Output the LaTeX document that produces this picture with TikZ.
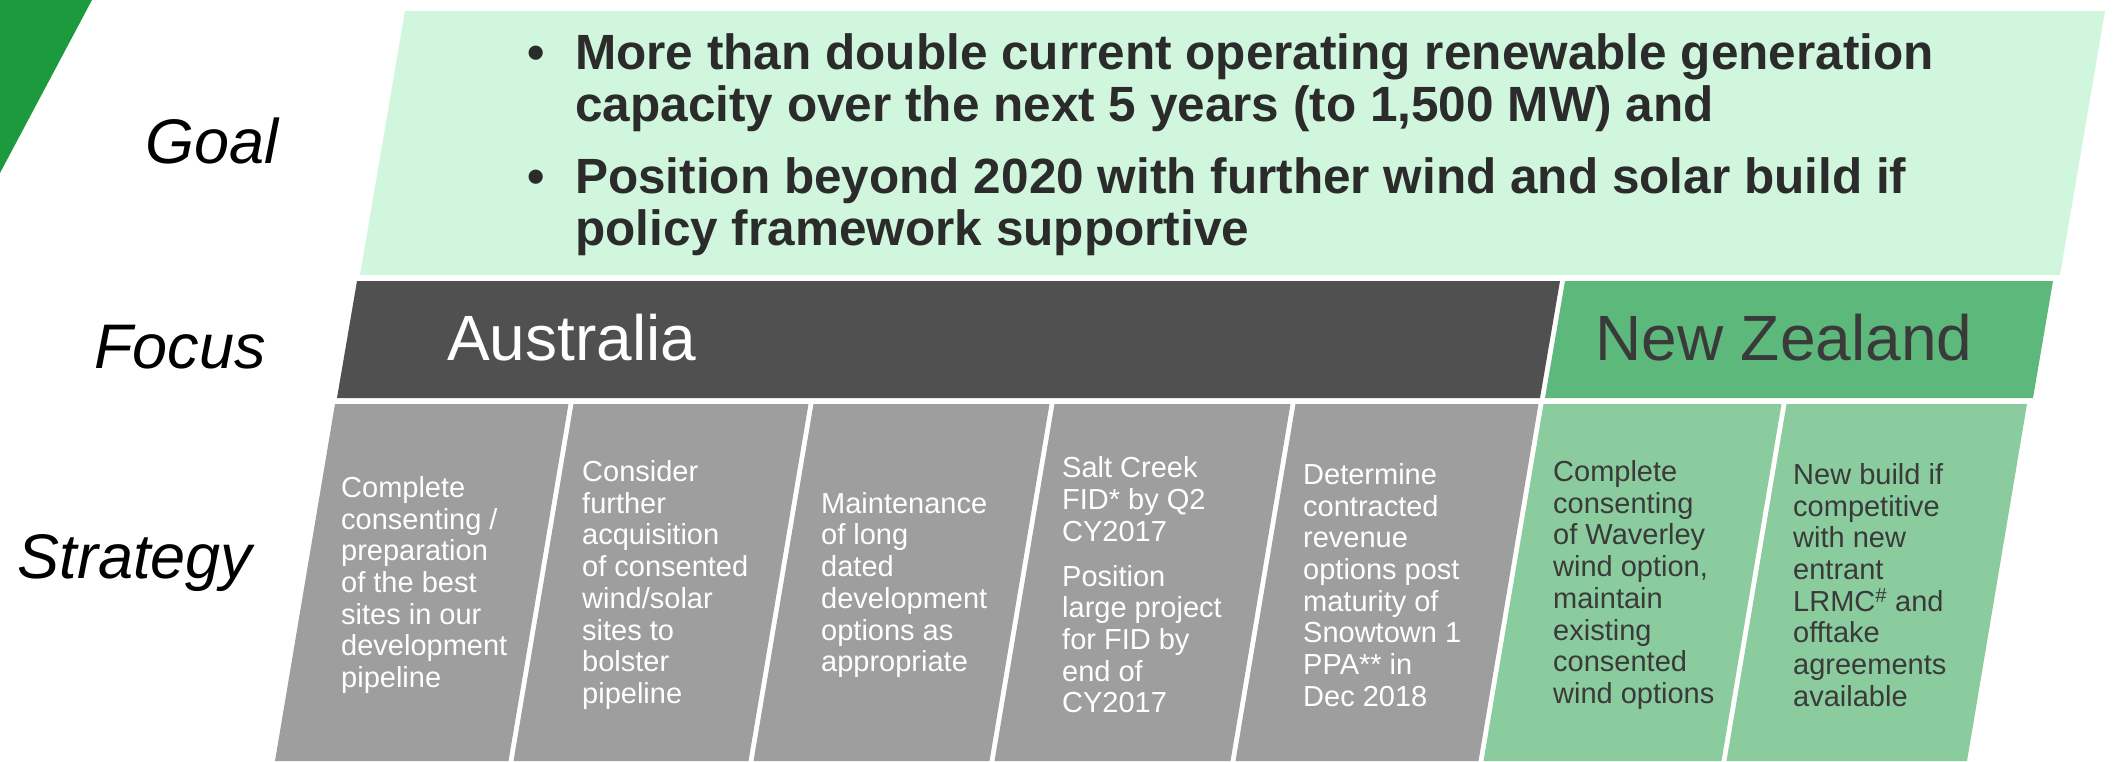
\documentclass[tikz,border=0pt]{standalone}
\usepackage{fontspec}
\setmainfont{Liberation Sans}
\usepackage{tikz}
\definecolor{leafgreen}{HTML}{1B9A3E}
\definecolor{mint}{HTML}{D0F6DE}
\definecolor{charcoal}{HTML}{505050}
\definecolor{nzgreen}{HTML}{5DB87B}
\definecolor{stone}{HTML}{9E9E9E}
\definecolor{sage}{HTML}{8ACC9E}
\definecolor{ink}{HTML}{2B2B2B}
\definecolor{nzink}{HTML}{3A3A3A}
\tikzset{
  rowlabel/.style={font=\fontsize{63}{70}\selectfont\itshape,anchor=base,inner sep=0pt},
  region/.style={font=\fontsize{64}{70}\selectfont,anchor=base west,inner sep=0pt},
  goalitem/.style={font=\fontsize{49.5}{52}\selectfont\bfseries,text=ink,
                   anchor=base west,inner sep=0pt},
  stratbox/.style={font=\fontsize{29}{31.7}\selectfont,align=left,anchor=west,
                   inner sep=0pt,text=white},
  nzstrat/.style={stratbox,text=nzink}
}

\begin{document}
\begin{tikzpicture}[x=1pt,y=-1pt]
\useasboundingbox (0,0) rectangle (2121,761);
\fill[leafgreen] (0,0) -- (92,0) -- (0,173) -- cycle;
% goal band
\fill[mint] (405,11) -- (2105,11) -- (2060,275) -- (360,275) -- cycle;
% focus band
\fill[charcoal] (357,281) -- (1560,281) -- (1540,398) -- (337,398) -- cycle;
\fill[nzgreen] (1565,281) -- (2053,281) -- (2033,398) -- (1545,398) -- cycle;
% strategy columns
\foreach \a/\b/\c in {335/568.5/stone,573.5/808.5/stone,813.5/1049.5/stone,
    1054.5/1290.5/stone,1295.5/1538.5/stone,1543.5/1781.5/sage,1786.5/2027/sage}
  \fill[\c] (\a,404) -- (\b,404) -- (\b-60,761) -- (\a-60,761) -- cycle;

\node[rowlabel] (goal) at (212,163) {Goal};
\node[rowlabel] (focus) at (180,368) {Focus};
\node[rowlabel] (strategy) at (135,578) {Strategy};

\node[goalitem] (g1) at (527,69) {\begin{tabular}[t]{@{}p{48pt}@{}l@{}}
  •&More than double current operating renewable generation\\
  &capacity over the next 5 years (to 1,500 MW) and\end{tabular}};
\node[goalitem] (g2) at (527,193) {\begin{tabular}[t]{@{}p{48pt}@{}l@{}}
  •&Position beyond 2020 with further wind and solar build if\\
  &policy framework supportive\end{tabular}};

\node[region,text=white] (aus) at (447,360) {Australia};
\node[region,text=nzink] (nz) at (1595,360) {New Zealand};

\node[stratbox] (s1) at (341,585) {Complete\\consenting /\\preparation\\of the best\\sites in our\\development\\pipeline};
\node[stratbox] (s2) at (582,585) {Consider\\further\\acquisition\\of consented\\wind/solar\\sites to\\bolster\\pipeline};
\node[stratbox] (s3) at (821,585) {Maintenance\\of long\\dated\\development\\options as\\appropriate};
\node[stratbox] (s4) at (1062,585) {Salt Creek\\FID* by Q2\\CY2017\\[13pt]Position\\large project\\for FID by\\end of\\CY2017};
\node[stratbox] (s5) at (1303,585) {Determine\\contracted\\revenue\\options post\\maturity of\\Snowtown 1\\PPA** in\\Dec 2018};
\node[nzstrat] (s6) at (1553,585) {Complete\\consenting\\of Waverley\\wind option,\\maintain\\existing\\consented\\wind options};
\node[nzstrat] (s7) at (1793,585) {New build if\\competitive\\with new\\entrant\\LRMC\textsuperscript{\#} and\\offtake\\agreements\\available};
\end{tikzpicture}
\end{document}
